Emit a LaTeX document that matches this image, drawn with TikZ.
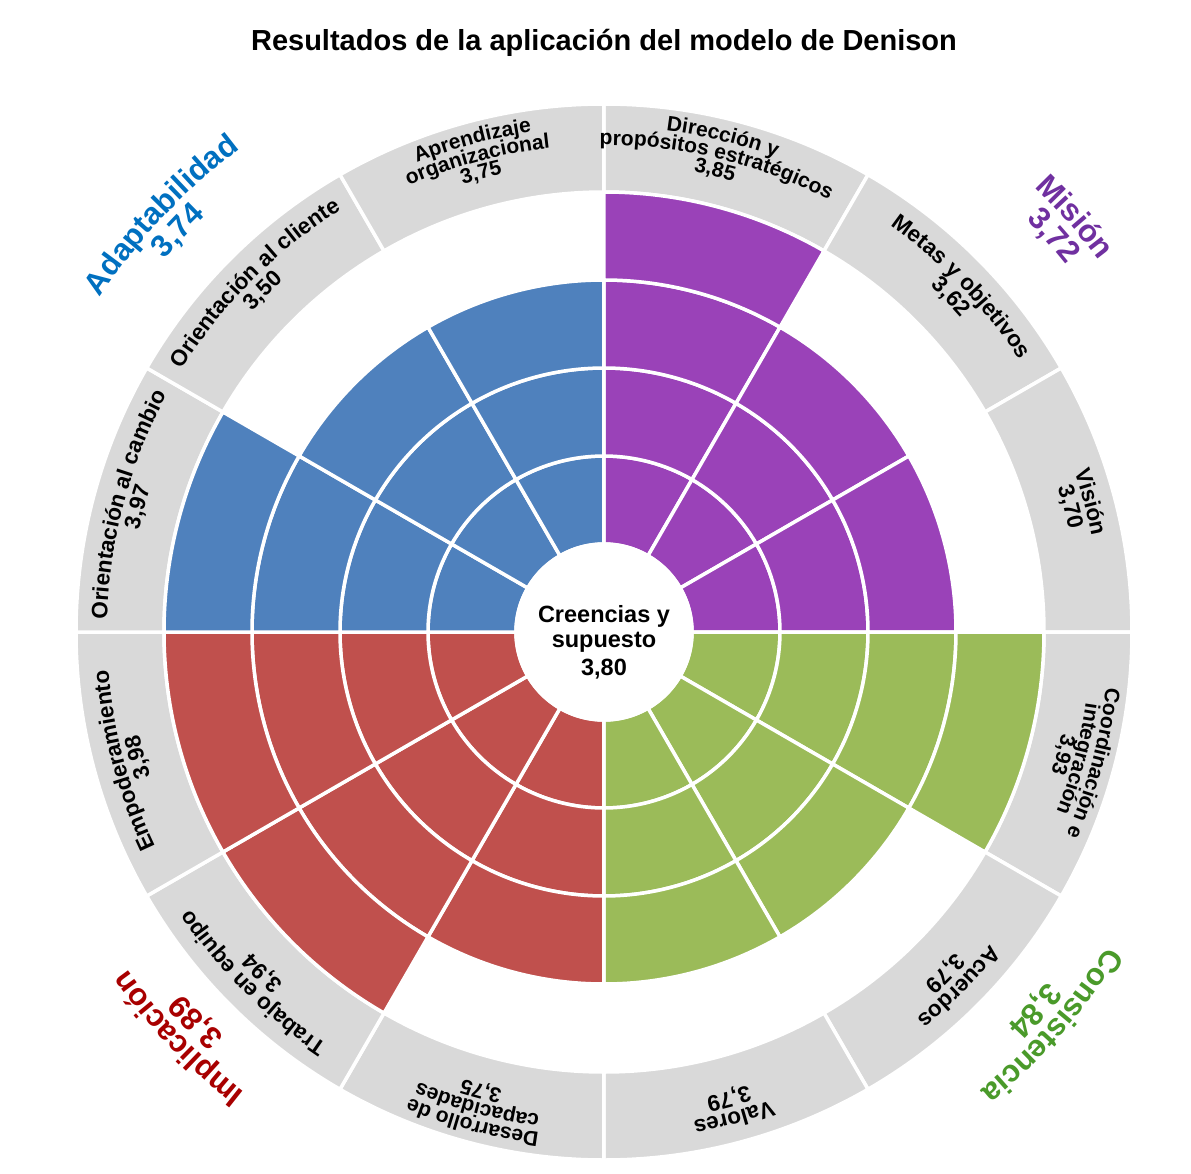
\documentclass[tikz,border=0pt]{standalone}
\usepackage{fontspec}
\setmainfont{Liberation Sans}
\usetikzlibrary{decorations.text}
\definecolor{segblue}{HTML}{4F81BD}
\definecolor{segpurple}{HTML}{9A42B8}
\definecolor{seggreen}{HTML}{9BBB59}
\definecolor{segred}{HTML}{C0504D}
\definecolor{seggray}{HTML}{D9D9D9}
\definecolor{catblue}{HTML}{0070C0}
\definecolor{catpurple}{HTML}{7030A0}
\definecolor{catgreen}{HTML}{4A9A2A}
\definecolor{catred}{HTML}{A80000}
\newcommand\labf{\fontsize{22.5}{22.5}\selectfont\bfseries}
\newcommand\labg{\fontsize{21}{21}\selectfont\bfseries}
\newcommand\bigf{\fontsize{31}{31}\selectfont\bfseries}
\tikzset{
  sector/.style={draw=white, line width=3.5pt, line join=miter},
  title/.style={font=\fontsize{29}{29}\selectfont\bfseries, anchor=base, inner sep=0pt},
  coretext/.style={font=\fontsize{23.5}{23.5}\selectfont\bfseries, anchor=base, inner sep=0pt},
}
% annular sector: colour, angle1, angle2, inner r, outer r
\newcommand\annsec[5]{%
  \path[sector, fill=#1] (#2:#4) -- (#2:#5) arc[start angle=#2, end angle=#3, radius=#5]
    -- (#3:#4) arc[start angle=#3, end angle=#2, radius=#4] -- cycle;}
% text along a clockwise arc: centre angle, radius, text
\newcommand\seglab[3]{%
  \path[decorate, decoration={text along path, text align=center, text={#3}}]
    ({#1+50}:#2) arc[start angle={#1+50}, end angle={#1-50}, radius=#2];}
\begin{document}
\begin{tikzpicture}[x=1pt,y=1pt]
\useasboundingbox (-604,-541) rectangle (587,632);
\fill[white] (-604,-541) rectangle (587,632);

\foreach \c/\a/\n in {segpurple/75/4, segpurple/45/3, segpurple/15/3,
                      seggreen/-15/4, seggreen/-45/3, seggreen/-75/3,
                      segred/-105/3, segred/-135/4, segred/-165/4,
                      segblue/165/4, segblue/135/3, segblue/105/3} {
  \pgfmathsetmacro\aa{\a+15}
  \pgfmathsetmacro\ab{\a-15}
  \annsec{seggray}{\aa}{\ab}{440}{528}
  \foreach \k in {1,...,\n} {
    \pgfmathsetmacro\ri{88*\k}
    \pgfmathsetmacro\ro{88*(\k+1)}
    \annsec{\c}{\aa}{\ab}{\ri}{\ro}
  }
}

\node[circle, fill=white, draw=white, line width=3.5pt, minimum size=176pt, inner sep=0pt] (core) at (0,0) {};
\node[coretext] (core1) at (0,10) {Creencias y};
\node[coretext] (core2) at (0,-15) {supuesto};
\node[coretext] (core3) at (0,-43) {3,80};

\node[title] (title) at (0,581) {Resultados de la aplicación del modelo de Denison};

% segment labels
\seglab{76.5}{505}{|\labg|Dirección y}
\seglab{76.5}{487}{|\labg|propósitos estratégicos}
\seglab{76.5}{469}{|\labg|3,85}
\seglab{44}{497}{|\labf|Metas y objetivos}
\seglab{44}{476}{|\labf|3,62}
\seglab{15}{497}{|\labf|Visión}
\seglab{15}{476}{|\labf|3,70}
\seglab{-15}{505}{|\labg|Coordinación e}
\seglab{-15}{487}{|\labg|integración}
\seglab{-15}{469}{|\labg|3,93}
\seglab{-45}{497}{|\labf|Acuerdos}
\seglab{-45}{476}{|\labf|3,79}
\seglab{-75}{497}{|\labf|Valores}
\seglab{-75}{476}{|\labf|3,79}
\seglab{-105}{505}{|\labg|Desarrollo de}
\seglab{-105}{487}{|\labg|capacidades}
\seglab{-105}{469}{|\labg|3,75}
\seglab{-135}{497}{|\labf|Trabajo en equipo}
\seglab{-135}{476}{|\labf|3,94}
\seglab{-165}{497}{|\labf|Empoderamiento}
\seglab{-165}{476}{|\labf|3,98}
\seglab{165}{497}{|\labf|Orientación al cambio}
\seglab{165}{476}{|\labf|3,97}
\seglab{135}{497}{|\labf|Orientación al cliente}
\seglab{135}{476}{|\labf|3,50}
\seglab{105}{505}{|\labg|Aprendizaje}
\seglab{105}{487}{|\labg|organizacional}
\seglab{105}{469}{|\labg|3,75}

% category labels
\seglab{136.7}{605}{|\bigf\color{catblue}|Adaptabilidad}
\seglab{136.7}{576}{|\bigf\color{catblue}|3,74}
\seglab{41.4}{619}{|\bigf\color{catpurple}|Misión}
\seglab{41.4}{590}{|\bigf\color{catpurple}|3,72}
\seglab{-41.3}{593}{|\bigf\color{catgreen}|Consistencia}
\seglab{-41.3}{564}{|\bigf\color{catgreen}|3,84}
\seglab{-136.3}{584}{|\bigf\color{catred}|Implicación}
\seglab{-136.3}{555}{|\bigf\color{catred}|3,89}
\end{tikzpicture}
\end{document}
